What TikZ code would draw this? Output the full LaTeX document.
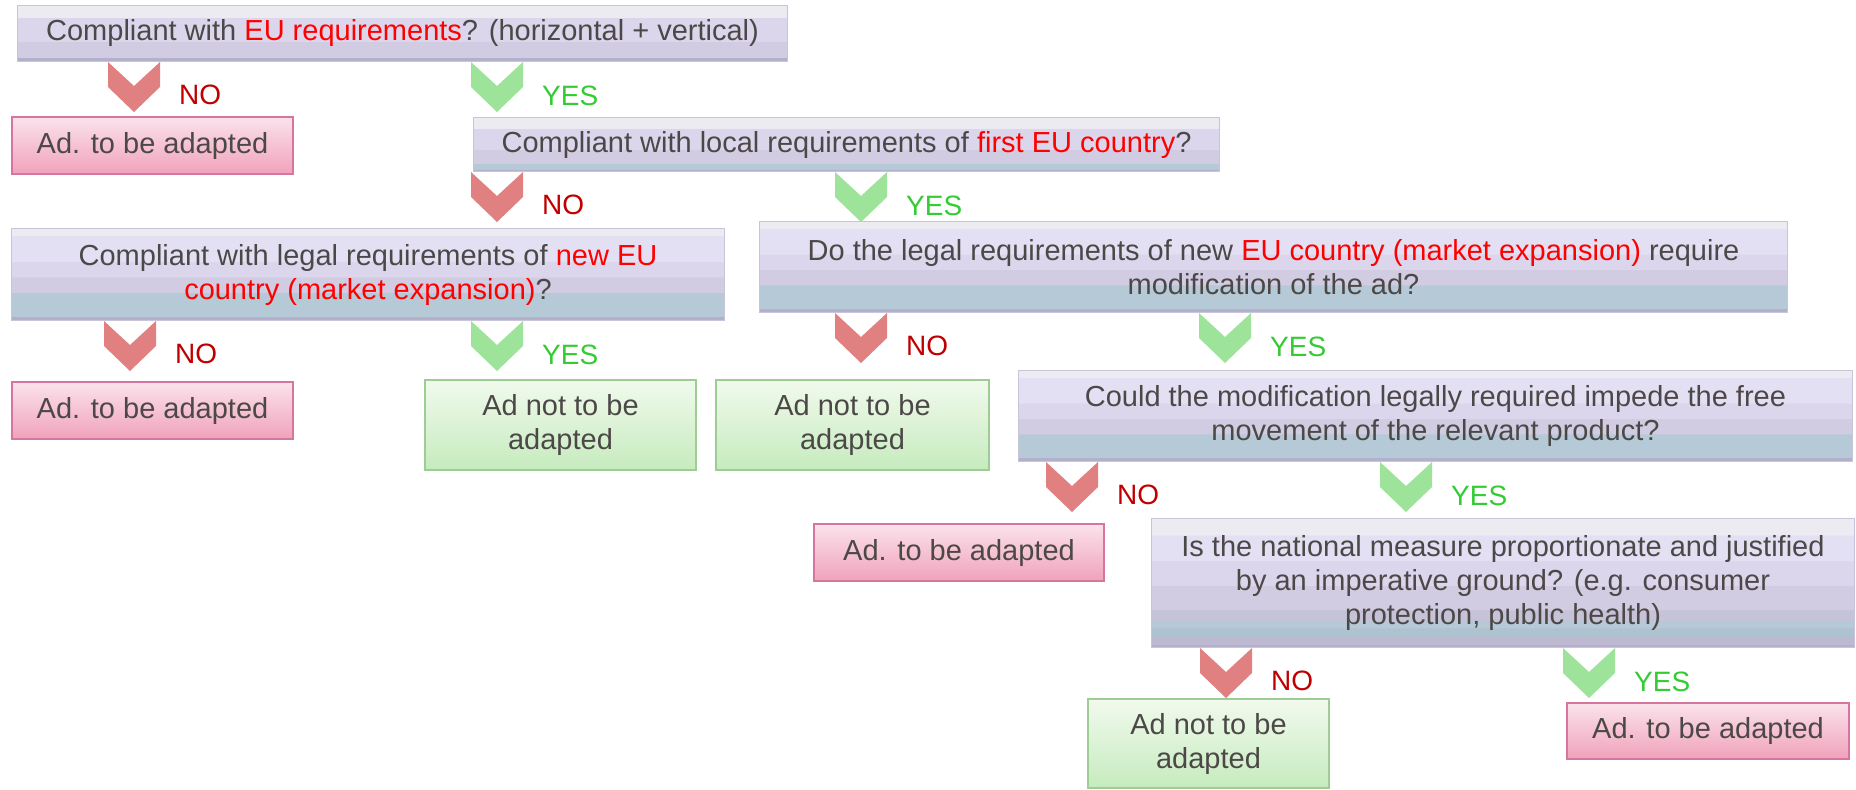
\documentclass[tikz,border=0pt]{standalone}
\usepackage{fontspec}
\setmainfont{Liberation Sans}
\usetikzlibrary{calc}

\definecolor{txt}{RGB}{77,72,72}
\definecolor{hl}{RGB}{255,0,0}
\definecolor{nored}{RGB}{192,0,0}
\definecolor{yesgreen}{RGB}{51,204,51}
\definecolor{chevred}{RGB}{224,128,128}
\definecolor{chevgreen}{RGB}{157,227,154}
\definecolor{pinktop}{RGB}{251,226,235}
\definecolor{pinkbot}{RGB}{240,162,187}
\definecolor{pinkedge}{RGB}{212,118,158}
\definecolor{greentop}{RGB}{241,250,237}
\definecolor{greenbot}{RGB}{198,235,190}
\definecolor{greenedge}{RGB}{157,205,148}
\definecolor{qtop}{RGB}{236,235,242}
\definecolor{qlavA}{RGB}{228,224,244}
\definecolor{qlavB}{RGB}{220,214,236}
\definecolor{qlavC}{RGB}{210,204,226}
\definecolor{qlavD}{RGB}{198,194,216}
\definecolor{qlavE}{RGB}{190,184,208}
\definecolor{qblue}{RGB}{181,201,214}
\definecolor{qblueB}{RGB}{174,194,208}
\definecolor{qedge}{RGB}{178,176,202}
\definecolor{qframe}{RGB}{200,196,220}

% banded fills of the question boxes (the box spans 25bp..75bp, bottom to top)
\pgfdeclareverticalshading{qbandA}{100bp}{%
  color(0bp)=(qedge); color(25bp)=(qedge); color(28.5bp)=(qedge);
  color(28.8bp)=(qlavC); color(42.5bp)=(qlavC); color(42.8bp)=(qlavB);
  color(64bp)=(qlavB); color(64.3bp)=(qtop); color(100bp)=(qtop)}
\pgfdeclareverticalshading{qbandB}{100bp}{%
  color(0bp)=(qedge); color(27bp)=(qedge); color(27.3bp)=(qblue);
  color(32.5bp)=(qblue); color(32.8bp)=(qlavC); color(45bp)=(qlavC);
  color(45.3bp)=(qlavB); color(65bp)=(qlavB); color(65.3bp)=(qtop);
  color(100bp)=(qtop)}
\pgfdeclareverticalshading{qbandC}{100bp}{%
  color(0bp)=(qedge); color(27bp)=(qedge); color(27.3bp)=(qblue);
  color(40bp)=(qblue); color(40.3bp)=(qlavC); color(48.5bp)=(qlavC);
  color(48.8bp)=(qlavB); color(57bp)=(qlavB); color(57.3bp)=(qlavA);
  color(71bp)=(qlavA); color(71.3bp)=(qtop); color(100bp)=(qtop)}
\pgfdeclareverticalshading{qbandD}{100bp}{%
  color(0bp)=(qedge); color(26bp)=(qedge); color(26.2bp)=(qlavE);
  color(29bp)=(qlavE); color(29.2bp)=(qblueB); color(32.5bp)=(qblueB);
  color(32.7bp)=(qblue); color(35.5bp)=(qblue); color(35.7bp)=(qlavD);
  color(39.5bp)=(qlavD); color(39.7bp)=(qlavC); color(49bp)=(qlavC);
  color(49.2bp)=(qlavB); color(58.5bp)=(qlavB); color(58.7bp)=(qlavA);
  color(68.5bp)=(qlavA); color(68.7bp)=(qtop); color(100bp)=(qtop)}

\tikzset{
  boxtext/.style={font=\fontsize{29}{34}\selectfont, text=txt, align=center, inner sep=4pt},
  qbox/.style={boxtext, shade, shading=qbandC, draw=qframe, line width=1pt, anchor=north west},
  pinkbox/.style={boxtext, top color=pinktop, bottom color=pinkbot, draw=pinkedge, line width=2pt, anchor=north west},
  greenbox/.style={boxtext, top color=greentop, bottom color=greenbot, draw=greenedge, line width=2pt, anchor=north west},
  lbl/.style={font=\fontsize{28}{32}\selectfont, inner sep=0pt, anchor=west},
  pics/nobranch/.style={code={
    \fill[chevred] (-26,0) -- (0,24) -- (26,0) -- (26,25) -- (0,50) -- (-26,25) -- cycle;
    \node[lbl, text=nored] (-lbl) at (45,33) {NO};
  }},
  pics/yesbranch/.style={code={
    \fill[chevgreen] (-26,0) -- (0,24) -- (26,0) -- (26,25) -- (0,50) -- (-26,25) -- cycle;
    \node[lbl, text=yesgreen] (-lbl) at (45,34) {YES};
  }},
}

\newcommand{\hlt}[1]{\textcolor{hl}{#1}}

\begin{document}
\begin{tikzpicture}[x=1pt, y=-1pt]
  \fill[white] (0,0) rectangle (1856,790);
  \useasboundingbox (0,0) rectangle (1856,790);

  % questions
  \node[qbox, shading=qbandA, minimum width=770pt, minimum height=56pt] (q1) at (17,5)
    {Compliant with \hlt{EU requirements}? (horizontal + vertical)};
  \node[qbox, shading=qbandB, minimum width=746pt, minimum height=54pt] (q2) at (473,117)
    {Compliant with local requirements of \hlt{first EU country}?};
  \node[qbox, minimum width=713pt, minimum height=92pt] (q3) at (11,228)
    {Compliant with legal requirements of \hlt{new EU}\\\hlt{country (market expansion)}?};
  \node[qbox, minimum width=1028pt, minimum height=91pt] (q4) at (759,221)
    {Do the legal requirements of new \hlt{EU country (market expansion)} require\\modification of the ad?};
  \node[qbox, minimum width=834pt, minimum height=91pt] (q5) at (1018,370)
    {Could the modification legally required impede the free\\movement of the relevant product?};
  \node[qbox, shading=qbandD, minimum width=703pt, minimum height=129pt] (q6) at (1151,518)
    {Is the national measure proportionate and justified\\by an imperative ground? (e.g. consumer\\protection, public health)};

  % outcomes
  \node[pinkbox, minimum width=281pt, minimum height=57pt] (a1) at (11,116) {Ad. to be adapted};
  \node[pinkbox, minimum width=281pt, minimum height=57pt] (a2) at (11,381) {Ad. to be adapted};
  \node[greenbox, minimum width=271pt, minimum height=90pt] (k1) at (424,379) {Ad not to be\\adapted};
  \node[greenbox, minimum width=273pt, minimum height=90pt] (k2) at (715,379) {Ad not to be\\adapted};
  \node[pinkbox, minimum width=290pt, minimum height=57pt] (a3) at (813,523) {Ad. to be adapted};
  \node[greenbox, minimum width=241pt, minimum height=89pt] (k3) at (1087,698) {Ad not to be\\adapted};
  \node[pinkbox, minimum width=282pt, minimum height=56pt] (a4) at (1566,702) {Ad. to be adapted};

  % branches
  \pic (n1) at (134,0 |- q1.south) {nobranch};
  \pic (y1) at (497,0 |- q1.south) {yesbranch};
  \pic (n2) at (497,0 |- q2.south) {nobranch};
  \pic (y2) at (861,0 |- q2.south) {yesbranch};
  \pic (n3) at (130,0 |- q3.south) {nobranch};
  \pic (y3) at (497,0 |- q3.south) {yesbranch};
  \pic (n4) at (861,0 |- q4.south) {nobranch};
  \pic (y4) at (1225,0 |- q4.south) {yesbranch};
  \pic (n5) at (1072,0 |- q5.south) {nobranch};
  \pic (y5) at (1406,0 |- q5.south) {yesbranch};
  \pic (n6) at (1226,0 |- q6.south) {nobranch};
  \pic (y6) at (1589,0 |- q6.south) {yesbranch};
\end{tikzpicture}
\end{document}
